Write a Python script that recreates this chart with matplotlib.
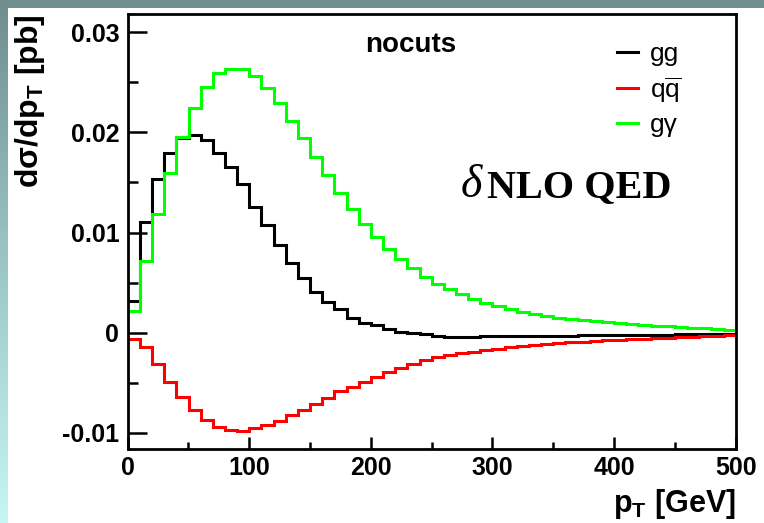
import numpy as np
import matplotlib
matplotlib.use("Agg")
import matplotlib.pyplot as plt
from matplotlib.ticker import MultipleLocator, FuncFormatter
from matplotlib.colors import LinearSegmentedColormap

plt.rcParams["font.family"] = ["Liberation Sans", "DejaVu Sans"]
plt.rcParams["mathtext.fontset"] = "custom"
plt.rcParams["mathtext.rm"] = "Liberation Sans"
plt.rcParams["mathtext.bf"] = "Liberation Sans:bold"
plt.rcParams["axes.unicode_minus"] = False

# pT binning: 50 bins of 10 GeV
edges = np.arange(0, 510, 10)

# d sigma / d pT [pb] per bin
gg = [0.0032, 0.0110, 0.0153, 0.0179, 0.0194, 0.0197, 0.0192, 0.0179, 0.0165, 0.0148,
      0.0125, 0.0107, 0.0088, 0.0070, 0.0055, 0.0041, 0.0031, 0.0024, 0.0015, 0.0010,
      0.0008, 0.0004, 0.0001, 0.0000, -0.0001, -0.0003, -0.0004, -0.0004, -0.0004, -0.0003,
      -0.0003, -0.0003, -0.0003, -0.0003, -0.0003, -0.0003, -0.0003, -0.0002, -0.0002, -0.0002,
      -0.0002, -0.0002, -0.0002, -0.0002, -0.0002, -0.0001, -0.0001, -0.0001, -0.0001, -0.0001]
qqbar = [-0.0006, -0.0014, -0.0031, -0.0049, -0.0064, -0.0077, -0.0087, -0.0094, -0.0097, -0.0098,
         -0.0095, -0.0092, -0.0088, -0.0082, -0.0077, -0.0071, -0.0065, -0.0058, -0.0054, -0.0049,
         -0.0044, -0.0039, -0.0035, -0.0031, -0.0027, -0.0024, -0.0022, -0.0020, -0.0019, -0.0017,
         -0.0016, -0.0014, -0.0013, -0.0012, -0.0011, -0.0010, -0.0009, -0.0009, -0.0008, -0.0007,
         -0.0007, -0.0006, -0.0006, -0.0005, -0.0005, -0.0004, -0.0004, -0.0003, -0.0003, -0.0002]
ggamma = [0.0022, 0.0072, 0.0118, 0.0159, 0.0195, 0.0224, 0.0245, 0.0259, 0.0263, 0.0263,
          0.0256, 0.0244, 0.0229, 0.0211, 0.0194, 0.0175, 0.0157, 0.0139, 0.0123, 0.0108,
          0.0096, 0.0084, 0.0074, 0.0065, 0.0056, 0.0049, 0.0044, 0.0039, 0.0034, 0.0030,
          0.0027, 0.0024, 0.0021, 0.0019, 0.0017, 0.0015, 0.0014, 0.0013, 0.0012, 0.0011,
          0.0010, 0.0009, 0.0008, 0.0007, 0.0007, 0.0006, 0.0005, 0.0005, 0.0004, 0.0003]

labels = ["gg", r"q$\overline{\mathrm{q}}$", "gγ"]
colors = ["black", "#ff0000", "#00ff00"]

fig = plt.figure(figsize=(7.64, 5.23), dpi=100)
fig.patch.set_facecolor("white")

# slide background bands (top strip and left gradient strip)
bg_top = fig.add_axes([0, 1 - 8 / 523, 1, 8 / 523])
bg_top.set_axis_off()
bg_top.add_patch(plt.Rectangle((0, 0), 1, 1, color="#718f8f", transform=bg_top.transAxes))
bg_left = fig.add_axes([0, 0, 8 / 764, 1])
grad = np.linspace(0, 1, 256)[:, None]
cmap = LinearSegmentedColormap.from_list("bg", ["#6f8d8d", "#9cc6c6", "#c6f6f6"])
bg_left.imshow(grad, aspect="auto", cmap=cmap, extent=[0, 1, 1, 0])
bg_left.set_axis_off()

ax = fig.add_axes([127.7 / 764, 1 - 449 / 523, 608 / 764, 435 / 523])
for vals, lab, col in zip([gg, qqbar, ggamma], labels, colors):
    ax.stairs(vals, edges, baseline=None, color=col, linewidth=2.2, label=lab)

ax.set_xlim(0, 500)
ax.set_ylim(-0.0116, 0.0318)

ax.xaxis.set_major_locator(MultipleLocator(100))
ax.xaxis.set_minor_locator(MultipleLocator(50))
ax.yaxis.set_major_locator(MultipleLocator(0.01))
ax.yaxis.set_minor_locator(MultipleLocator(0.005))
ax.yaxis.set_major_formatter(FuncFormatter(lambda v, p: "0" if abs(v) < 1e-9 else "%g" % round(v, 3)))

for s in ax.spines.values():
    s.set_linewidth(2.0)
ax.tick_params(axis="both", which="both", direction="in", width=1.8, top=False, right=False)
ax.tick_params(axis="y", which="major", length=13.5, labelsize=18, pad=6)
ax.tick_params(axis="y", which="minor", length=7)
ax.tick_params(axis="x", which="major", length=8.5, labelsize=18, pad=5)
ax.tick_params(axis="x", which="minor", length=5)
for t in ax.get_xticklabels() + ax.get_yticklabels():
    t.set_fontweight("bold")

ax.set_xlabel(r"p$_\mathbf{T}$ [GeV]", fontsize=22, fontweight="bold", loc="right")
ax.xaxis.set_label_coords(1.0, -0.088)
ax.set_ylabel(r"d$\mathbf{\sigma}$/dp$_\mathbf{T}$ [pb]", fontsize=23, fontweight="bold", loc="top")
ax.yaxis.set_label_coords(-0.133, 1.0)

ax.text(0.466, 0.929, "nocuts", transform=ax.transAxes, fontsize=20, fontweight="bold",
        ha="center", va="center")

ax.legend(loc="upper left", bbox_to_anchor=(0.7957, 0.947), frameon=False, fontsize=19,
          handlelength=0.8, handletextpad=0.45, labelspacing=0.32, borderpad=0.2,
          borderaxespad=0)

ax.text(0.547, 0.579, "δ", transform=ax.transAxes, fontsize=33, fontstyle="italic",
        fontfamily="Liberation Serif", ha="left", va="baseline")
ax.text(0.591, 0.579, "NLO QED", transform=ax.transAxes, fontsize=29, fontweight="bold",
        fontfamily="Liberation Serif", ha="left", va="baseline")

fig.savefig("out.png", dpi=100)
